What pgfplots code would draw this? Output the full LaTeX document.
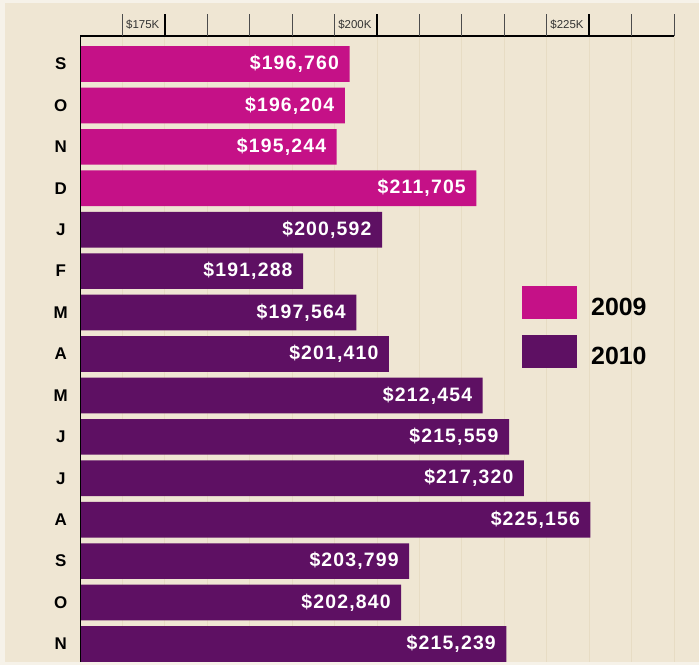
\documentclass[border=0pt]{standalone}
\usepackage{pgfplots}
\usepackage{pgfplotstable}
\pgfplotsset{compat=1.18}
\usepackage{fontspec}
\setmainfont{Liberation Sans}
\newfontfamily\valfont{Liberation Sans}[LetterSpace=6]

\definecolor{bg}{HTML}{EFE6D3}
\definecolor{edge}{HTML}{F6F2E9}
\definecolor{gridc}{HTML}{E7DCC4}
\definecolor{c2009}{HTML}{C51187}
\definecolor{c2010}{HTML}{5E1063}

% median home price by month, Sep 2009 - Nov 2010
\pgfplotstableread{
idx value
0 196760
1 196204
2 195244
3 211705
}\tabA
\pgfplotstableread{
idx value
4 200592
5 191288
6 197564
7 201410
8 212454
9 215559
10 217320
11 225156
12 203799
13 202840
14 215239
}\tabB

\begin{document}
\begin{tikzpicture}
\fill[edge] (0,0) rectangle (699bp,665bp);
\fill[bg] (5bp,3bp) rectangle (699bp,662bp);
\path[use as bounding box] (0,0) rectangle (699bp,665bp);
\begin{axis}[
  at={(80bp,3bp)}, anchor=south west,
  scale only axis, width=594bp, height=626bp,
  clip mode=individual,
  xbar, bar width=35.7bp, bar shift=0pt,
  xmin=165000, xmax=235000, scaled x ticks=false,
  ymin=-0.676, ymax=14.435, y dir=reverse,
  xtick={170000,175000,...,235000}, xticklabels={},
  xmajorgrids, grid style={gridc, line width=1bp},
  major tick style={draw=none},
  ytick={0,...,14},
  yticklabels={S,O,N,D,J,F,M,A,M,J,J,A,S,O,N},
  yticklabel style={font=\bfseries\fontsize{17}{17}\selectfont, anchor=center, xshift=-15bp},
  axis line style={draw=none},
  point meta=x,
  nodes near coords={\valfont\bfseries\$\pgfmathprintnumber[fixed,precision=0,1000 sep={,},assume math mode=true]{\pgfplotspointmeta}},
  every node near coord/.append style={anchor=east, text=white, xshift=-7bp,
    font=\fontsize{19.5}{20}\selectfont},
  legend image code/.code={\fill[#1] (0bp,-12bp) rectangle (55bp,21bp);},
  legend style={at={(axis description cs:0.739,0.6038)}, anchor=north west,
    draw=none, fill=none, row sep=16bp,
    font=\bfseries\fontsize{25}{25}\selectfont,
    nodes={inner xsep=14bp}},
  legend cell align=left,
]
\addplot[fill=c2009, draw=none] table[x=value, y=idx] {\tabA};
\addlegendentry{2009}
\addplot[fill=c2010, draw=none] table[x=value, y=idx] {\tabB};
\addlegendentry{2010}

\draw[black, line width=1.2bp] (axis description cs:0,1) -- (axis description cs:1,1);
\draw[black, line width=1bp] (axis description cs:0,0) -- (axis description cs:0,1);
\pgfplotsinvokeforeach{170000,180000,185000,190000,195000,205000,210000,215000,220000,230000,235000}{
  \draw[black!70, line width=0.9bp] ({axis cs:#1,0} |- {axis description cs:0,1}) -- ++(0bp,22bp);
}
\pgfplotsinvokeforeach{175000,200000,225000}{
  \draw[black, line width=1.4bp] ({axis cs:#1,0} |- {axis description cs:0,1}) -- ++(0bp,22bp);
}
\node[anchor=east, xshift=-2bp, yshift=11bp, text=black!80, font=\fontsize{11.5}{12}\selectfont]
  at ({axis cs:175000,0} |- {axis description cs:0,1}) {\$175K};
\node[anchor=east, xshift=-2bp, yshift=11bp, text=black!80, font=\fontsize{11.5}{12}\selectfont]
  at ({axis cs:200000,0} |- {axis description cs:0,1}) {\$200K};
\node[anchor=east, xshift=-2bp, yshift=11bp, text=black!80, font=\fontsize{11.5}{12}\selectfont]
  at ({axis cs:225000,0} |- {axis description cs:0,1}) {\$225K};
\end{axis}
\end{tikzpicture}
\end{document}
